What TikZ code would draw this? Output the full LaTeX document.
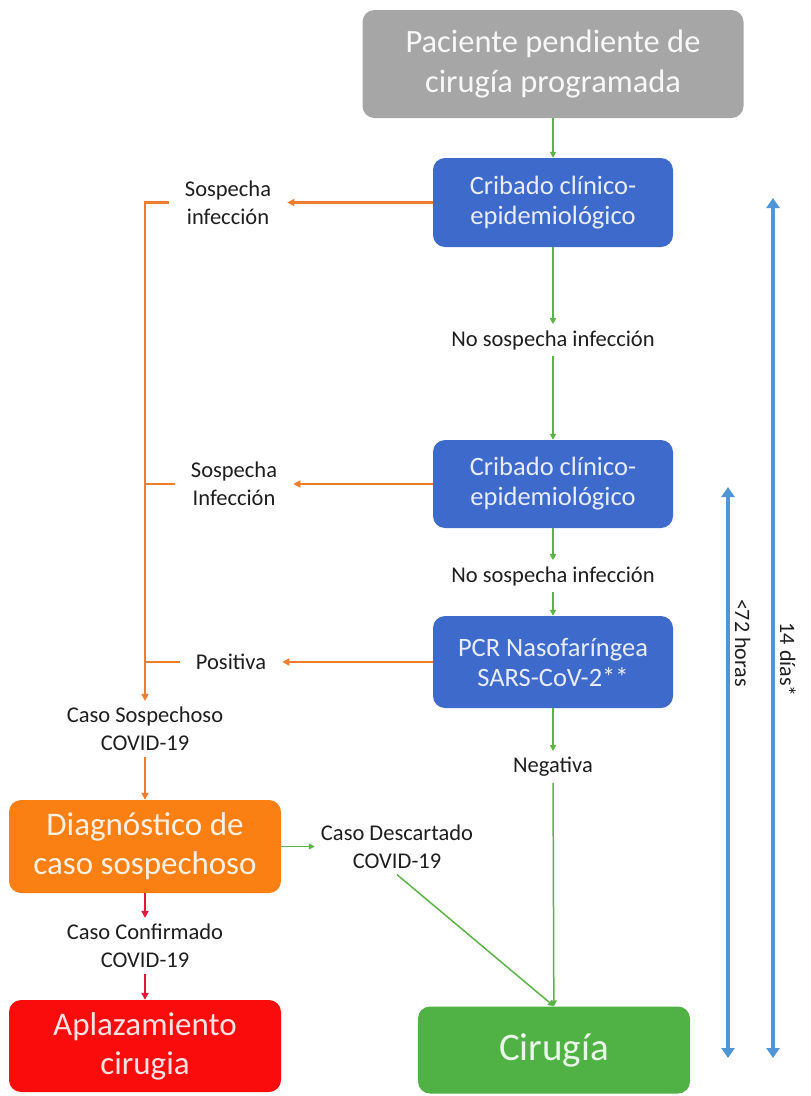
\documentclass[tikz,border=0pt]{standalone}
\usepackage{fontspec}
\setmainfont{Carlito}
\usetikzlibrary{arrows.meta}

\definecolor{boxgray}{RGB}{166,166,166}
\definecolor{boxblue}{RGB}{62,106,204}
\definecolor{boxorange}{RGB}{250,128,20}
\definecolor{boxred}{RGB}{250,12,12}
\definecolor{boxgreen}{RGB}{80,178,68}
\definecolor{linegreen}{RGB}{90,180,70}
\definecolor{lineorange}{RGB}{240,125,45}
\definecolor{linered}{RGB}{230,20,60}
\definecolor{lineblue}{RGB}{80,150,215}
\definecolor{labeltext}{RGB}{30,30,30}

\tikzset{
  box/.style={rounded corners=12pt, align=center, inner sep=0pt},
  bigbox/.style={box, minimum width=272pt, font=\fontsize{33}{39}\selectfont},
  cribado/.style={box, fill=boxblue, text=white!88!boxblue, minimum width=240pt,
    font=\fontsize{26.5}{30}\selectfont},
  lbl/.style={text=labeltext, align=center, font=\fontsize{22.5}{28}\selectfont, inner sep=6pt},
  sidelbl/.style={lbl, inner xsep=16pt},
  rotlbl/.style={text=labeltext, font=\fontsize{22}{26}\selectfont, rotate=-90, anchor=south, inner sep=5pt},
  garrow/.style={->, draw=linegreen, line width=1.5pt, >={Triangle[length=6pt,width=6pt]}},
  oarrow/.style={->, draw=lineorange, line width=2.2pt, >={Triangle[length=7pt,width=7pt]}},
  oline/.style={draw=lineorange, line width=2.2pt},
  rarrow/.style={->, draw=linered, line width=2pt, >={Triangle[length=7pt,width=7pt]}},
  barrow/.style={<->, draw=lineblue, line width=4pt, >={Triangle[length=10pt,width=13pt]}}
}

\begin{document}
\begin{tikzpicture}[x=1pt,y=1pt]
    \useasboundingbox (0,0) rectangle (811,-1096);

    % main column
    \node [box, fill=boxgray, text=white!92!boxgray, minimum width=381pt, minimum height=108pt,
      font=\fontsize{32.5}{40}\selectfont] (paciente) at (553,-64) {Paciente pendiente de\\cirugía programada};
    \node [cribado, minimum height=89pt] (cribA) [below of=paciente, node distance=138.5pt] {Cribado clínico-\\epidemiológico};
    \node [lbl] (nosospA) [below of=cribA, node distance=137.5pt] {No sospecha infección};
    \node [cribado, minimum height=88pt] (cribB) [below of=nosospA, node distance=144pt] {Cribado clínico-\\epidemiológico};
    \node [lbl] (nosospB) [below of=cribB, node distance=92pt] {No sospecha infección};
    \node [cribado, minimum height=92pt] (pcr) [below of=nosospB, node distance=86pt] {PCR Nasofaríngea\\SARS-CoV-2**};
    \node [lbl] (negativa) [below of=pcr, node distance=105pt] {Negativa};
    \node [box, fill=boxgreen, text=white!88!boxgreen, minimum width=272pt, minimum height=87pt,
      font=\fontsize{39}{44}\selectfont] (cirugia) at (554,-1050) {Cirugía};

    % left side
    \node [sidelbl] (sospA) [left of=cribA, node distance=325pt] {Sospecha\\infección};
    \node [sidelbl] (sospB) [left of=cribB, node distance=319pt] {Sospecha\\Infección};
    \node [sidelbl] (positiva) [left of=pcr, node distance=322pt] {Positiva};
    \node [lbl] (casososp) at (145,-729) {Caso Sospechoso\\COVID-19};
    \node [bigbox, fill=boxorange, text=white!88!boxorange, minimum height=93pt] (diagnostico)
      [below of=casososp, node distance=117.5pt] {Diagnóstico de\\caso sospechoso};
    \node [lbl] (descartado) [right of=diagnostico, node distance=252pt] {Caso Descartado\\COVID-19};
    \node [lbl] (confirmado) [below of=diagnostico, node distance=99.5pt] {Caso Confirmado\\COVID-19};
    \node [bigbox, fill=boxred, text=white!88!boxred, minimum height=92pt] (aplazamiento)
      [below of=confirmado, node distance=100pt] {Aplazamiento\\cirugia};

    % green path
    \draw[garrow] (paciente) -- (cribA);
    \draw[garrow] (cribA) -- (nosospA);
    \draw[garrow] (nosospA) -- (cribB);
    \draw[garrow] (cribB) -- (nosospB);
    \draw[garrow] (nosospB) -- (pcr);
    \draw[garrow] (pcr) -- (negativa);
    \draw[garrow] (negativa) -- (cirugia);
    \draw[garrow] (diagnostico.east) -- (descartado.west |- diagnostico.east);
    \draw[garrow] (descartado.south) -- (cirugia.north);

    % orange path
    \draw[oarrow] (cribA) -- (sospA);
    \draw[oarrow] (cribB) -- (sospB);
    \draw[oarrow] (pcr) -- (positiva);
    \draw[oarrow] (sospA.west) -| (casososp.north);
    \draw[oline] (sospB.west) -- (sospB.west -| casososp.north);
    \draw[oline] (positiva.west) -- (positiva.west -| casososp.north);
    \draw[oarrow] (casososp) -- (diagnostico);

    % red path
    \draw[rarrow] (diagnostico) -- (confirmado);
    \draw[rarrow] (confirmado) -- (aplazamiento);

    % time spans
    \coordinate (horasTop) at (728,-487);
    \coordinate (horasBot) at (728,-1058);
    \coordinate (diasTop) at (773,-198);
    \coordinate (diasBot) at (773,-1058);
    \draw[barrow] (horasTop) -- (horasBot) node[pos=0.273, rotlbl] {<72 horas};
    \draw[barrow] (diasTop) -- (diasBot) node[pos=0.537, rotlbl] {14 días*};
\end{tikzpicture}
\end{document}
